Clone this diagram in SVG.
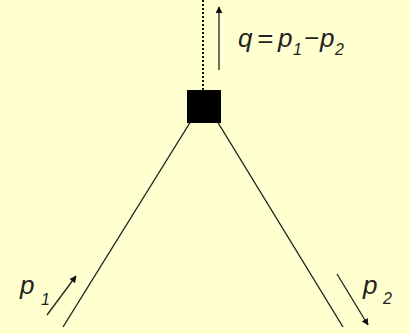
<svg xmlns="http://www.w3.org/2000/svg" width="410" height="334" viewBox="0 0 410 334">
<defs>
<marker id="ah" viewBox="0 0 10 10" refX="9" refY="5" markerWidth="7" markerHeight="7" markerUnits="userSpaceOnUse" orient="auto">
<path d="M0,0 L10,5 L0,10 z" fill="#111"/>
</marker>
<style>
.ln{stroke:#222;stroke-width:1.4;fill:none}
.ar{stroke:#222;stroke-width:1.3;fill:none;marker-end:url(#ah)}
.dt{stroke:#111;stroke-width:2;stroke-dasharray:2 2;fill:none}
.t{font-family:"Liberation Sans",Arial,sans-serif;font-style:italic;fill:#222;font-size:26px}
.s{font-size:16px}
</style>
</defs>
<rect width="410" height="334" fill="#ffffd0"/>
<g id="connectors">
<line class="dt" x1="203" y1="0" x2="203" y2="90"/>
<line class="ln" x1="191" y1="121" x2="63" y2="327"/>
<line class="ln" x1="217" y1="121" x2="343" y2="327"/>
<line class="ar" x1="219" y1="70" x2="219" y2="7"/>
<line class="ar" x1="47" y1="315" x2="76" y2="276"/>
<line class="ar" x1="337" y1="274" x2="368" y2="325"/>
</g>
<g id="node">
<rect x="187" y="90" width="34" height="33" fill="#000"/>
</g>
<g id="labels">
<text class="t" y="47"><tspan x="238">q</tspan><tspan x="257" textLength="16" lengthAdjust="spacingAndGlyphs">=</tspan><tspan x="278">p</tspan><tspan class="s" x="293" y="55">1</tspan><tspan x="304" y="47">−</tspan><tspan x="320">p</tspan><tspan class="s" x="335" y="55">2</tspan></text>
<text class="t" y="294"><tspan x="20">p</tspan><tspan class="s" x="41" y="305">1</tspan></text>
<text class="t" y="294"><tspan x="363">p</tspan><tspan class="s" x="383" y="304">2</tspan></text>
</g>
</svg>
